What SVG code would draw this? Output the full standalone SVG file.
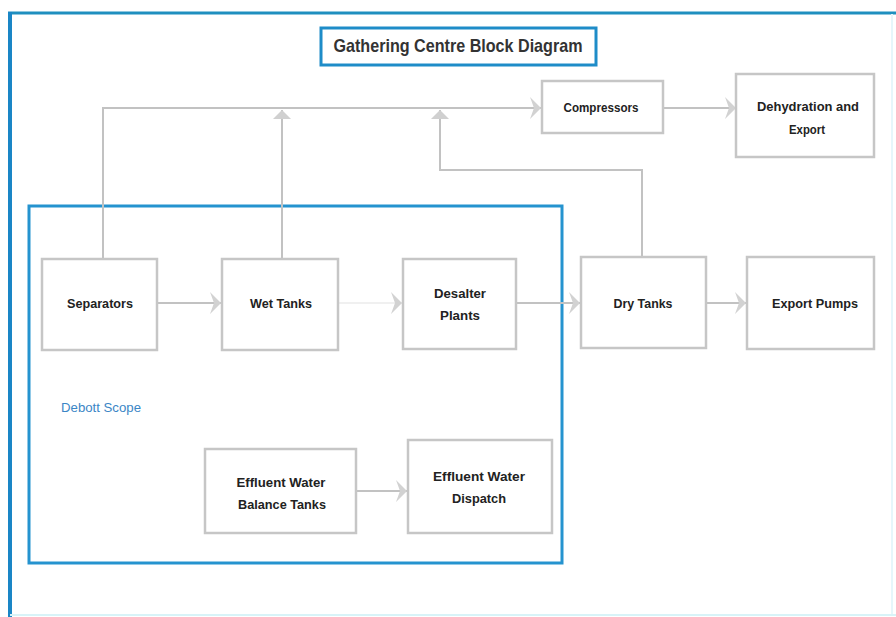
<svg xmlns="http://www.w3.org/2000/svg" width="896" height="617" viewBox="0 0 896 617">
<defs>
<style>
.box{fill:#fff;stroke:#c6c6c6;stroke-width:2.5}
.t{font-family:"Liberation Sans",Arial,sans-serif;font-weight:bold;font-size:13.5px;fill:#222;text-anchor:middle}
.c{fill:none;stroke:#c2c2c2;stroke-width:2}
.faint{stroke:#f0f0f0}
</style>
<marker id="ah" markerUnits="userSpaceOnUse" markerWidth="14" markerHeight="24" refX="12" refY="12" orient="auto">
<path d="M1,1 L12,12 L1,23 L5,12 Z" fill="#d2d2d2"/>
</marker>
<marker id="au" markerUnits="userSpaceOnUse" markerWidth="14" markerHeight="24" refX="12" refY="12" orient="auto">
<path d="M3,3 L12,12 L3,21 Z" fill="#d0d0d0"/>
</marker>
</defs>
<rect width="896" height="617" fill="#fff"/>
<g id="frame">
<line x1="8" y1="13" x2="896" y2="13" stroke="#1f8fbf" stroke-width="3"/>
<line x1="10" y1="12" x2="10" y2="617" stroke="#1a86c6" stroke-width="4"/>
<line x1="892" y1="14" x2="892" y2="615" stroke="#e6f6fb" stroke-width="2"/>
<line x1="10" y1="615" x2="896" y2="615" stroke="#d8f3f8" stroke-width="2"/>
</g>
<g id="title">
<rect x="321" y="28" width="275" height="37" fill="#fff" stroke="#1e8cc8" stroke-width="3"/>
<text x="458" y="52" font-family="'Liberation Sans',Arial,sans-serif" font-weight="bold" font-size="18.5" fill="#333" text-anchor="middle" textLength="249" lengthAdjust="spacingAndGlyphs">Gathering Centre Block Diagram</text>
</g>
<g id="debott-scope">
<rect x="29" y="206" width="533" height="357" fill="none" stroke="#2593cf" stroke-width="3"/>
<text x="61" y="412" font-family="'Liberation Sans',Arial,sans-serif" font-size="13" fill="#3b86c6" textLength="80" lengthAdjust="spacingAndGlyphs">Debott Scope</text>
</g>
<g id="connectors">
<path class="c" d="M103,258 V108 H541" marker-end="url(#ah)"/>
<path class="c" d="M282,258 V110" marker-end="url(#au)"/>
<path class="c" d="M642,257 V170 H440 V110" marker-end="url(#au)"/>
<path class="c" d="M663,108 H736" marker-end="url(#ah)"/>
<path class="c" d="M157,303 H221" marker-end="url(#ah)"/>
<path class="c faint" d="M338,303 H402" marker-end="url(#ah)"/>
<path class="c" d="M516,303 H580" marker-end="url(#ah)"/>
<path class="c" d="M706,303 H746" marker-end="url(#ah)"/>
<path class="c" d="M356,491 H407" marker-end="url(#ah)"/>
</g>
<g id="separators">
<rect class="box" x="42" y="259" width="115" height="91"/>
<text class="t" x="100" y="308" textLength="66" lengthAdjust="spacingAndGlyphs">Separators</text>
</g>
<g id="wet-tanks">
<rect class="box" x="222" y="259" width="116" height="91"/>
<text class="t" x="281" y="308" textLength="62" lengthAdjust="spacingAndGlyphs">Wet Tanks</text>
</g>
<g id="desalter-plants">
<rect class="box" x="403" y="259" width="113" height="90"/>
<text class="t" x="460" y="298" textLength="52" lengthAdjust="spacingAndGlyphs">Desalter</text>
<text class="t" x="460" y="320" textLength="40" lengthAdjust="spacingAndGlyphs">Plants</text>
</g>
<g id="dry-tanks">
<rect class="box" x="581" y="257" width="125" height="91"/>
<text class="t" x="643" y="308" textLength="59" lengthAdjust="spacingAndGlyphs">Dry Tanks</text>
</g>
<g id="export-pumps">
<rect class="box" x="747" y="257" width="127" height="92"/>
<text class="t" x="815" y="308" textLength="86" lengthAdjust="spacingAndGlyphs">Export Pumps</text>
</g>
<g id="compressors">
<rect class="box" x="542" y="81" width="121" height="52"/>
<text class="t" x="601" y="112" textLength="75" lengthAdjust="spacingAndGlyphs">Compressors</text>
</g>
<g id="dehydration-export">
<rect class="box" x="736" y="74" width="138" height="83"/>
<text class="t" x="808" y="111" textLength="102" lengthAdjust="spacingAndGlyphs">Dehydration and</text>
<text class="t" x="807" y="134" textLength="36" lengthAdjust="spacingAndGlyphs">Export</text>
</g>
<g id="effluent-balance-tanks">
<rect class="box" x="205" y="449" width="151" height="84"/>
<text class="t" x="281" y="487" textLength="89" lengthAdjust="spacingAndGlyphs">Effluent Water</text>
<text class="t" x="282" y="509" textLength="88" lengthAdjust="spacingAndGlyphs">Balance Tanks</text>
</g>
<g id="effluent-dispatch">
<rect class="box" x="408" y="440" width="144" height="93"/>
<text class="t" x="479" y="481" textLength="92" lengthAdjust="spacingAndGlyphs">Effluent Water</text>
<text class="t" x="479" y="503" textLength="54" lengthAdjust="spacingAndGlyphs">Dispatch</text>
</g>
</svg>
